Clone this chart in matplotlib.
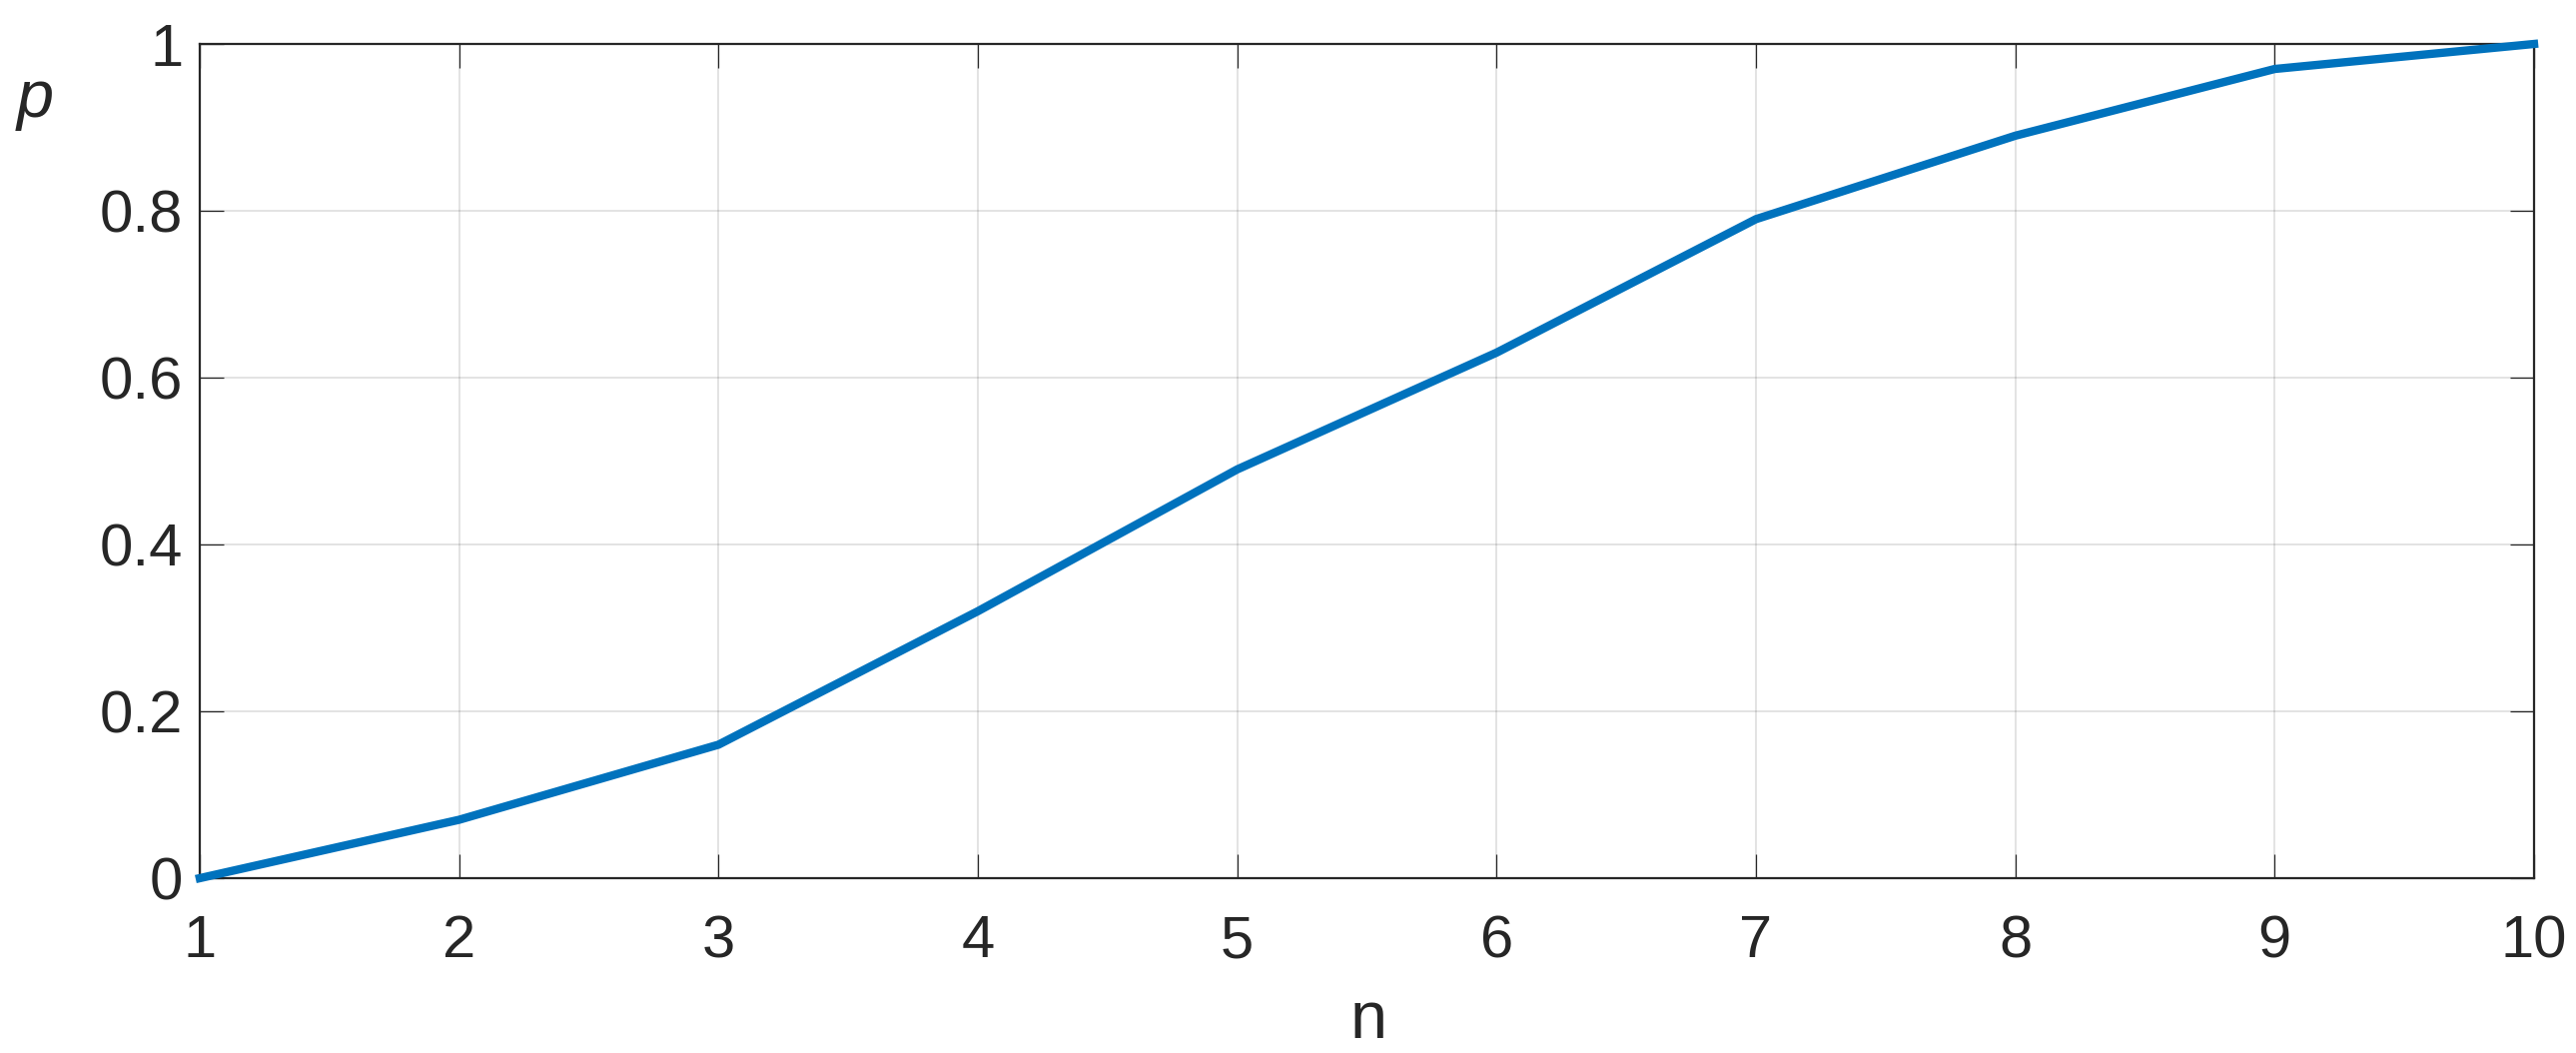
import matplotlib
matplotlib.use("Agg")
import matplotlib.pyplot as plt

n = [1, 2, 3, 4, 5, 6, 7, 8, 9, 10]
p = [0.0, 0.07, 0.16, 0.32, 0.49, 0.63, 0.79, 0.89, 0.97, 1.0]
xticks = [1, 2, 3, 4, 5, 6, 7, 8, 9, 10]
yticks = [0, 0.2, 0.4, 0.6, 0.8, 1.0]
yticklabels = ["0", "0.2", "0.4", "0.6", "0.8", "1"]

plt.rcParams['font.family'] = ['Liberation Sans', 'DejaVu Sans']

fig = plt.figure(figsize=(25.79, 10.54), dpi=100)
ax = fig.add_axes([200/2579, 1-879/1054, 2337/2579, 835/1054])

ax.plot(n, p, color='#0072BD', linewidth=6, solid_joinstyle='round', clip_on=False, zorder=3)

ax.set_xlim(1, 10)
ax.set_ylim(0, 1)
ax.set_xticks(xticks)
ax.set_yticks(yticks)
ax.set_yticklabels(yticklabels)

ax.grid(True, color='#000000', alpha=0.12, linewidth=1.3)
ax.set_axisbelow(True)

for s in ax.spines.values():
    s.set_color('#262626')
    s.set_linewidth(1.6)

ax.tick_params(axis='both', direction='in', length=17, width=0.9, color='#262626',
               labelcolor='#262626', labelsize=43, top=True, right=True)
ax.tick_params(axis='x', pad=26)
ax.tick_params(axis='y', pad=12)

ax.set_xlabel('n', fontsize=48, color='#262626')
ax.xaxis.set_label_coords(0.5006, -0.171)
ax.xaxis.label.set_va('center')
ax.set_ylabel('p', fontsize=48, color='#262626', rotation=0, style='italic')
ax.yaxis.set_label_coords(-0.0706, 0.933)
ax.yaxis.label.set_va('center')
ax.yaxis.label.set_ha('center')

fig.savefig('out.png', dpi=100, facecolor='white')
